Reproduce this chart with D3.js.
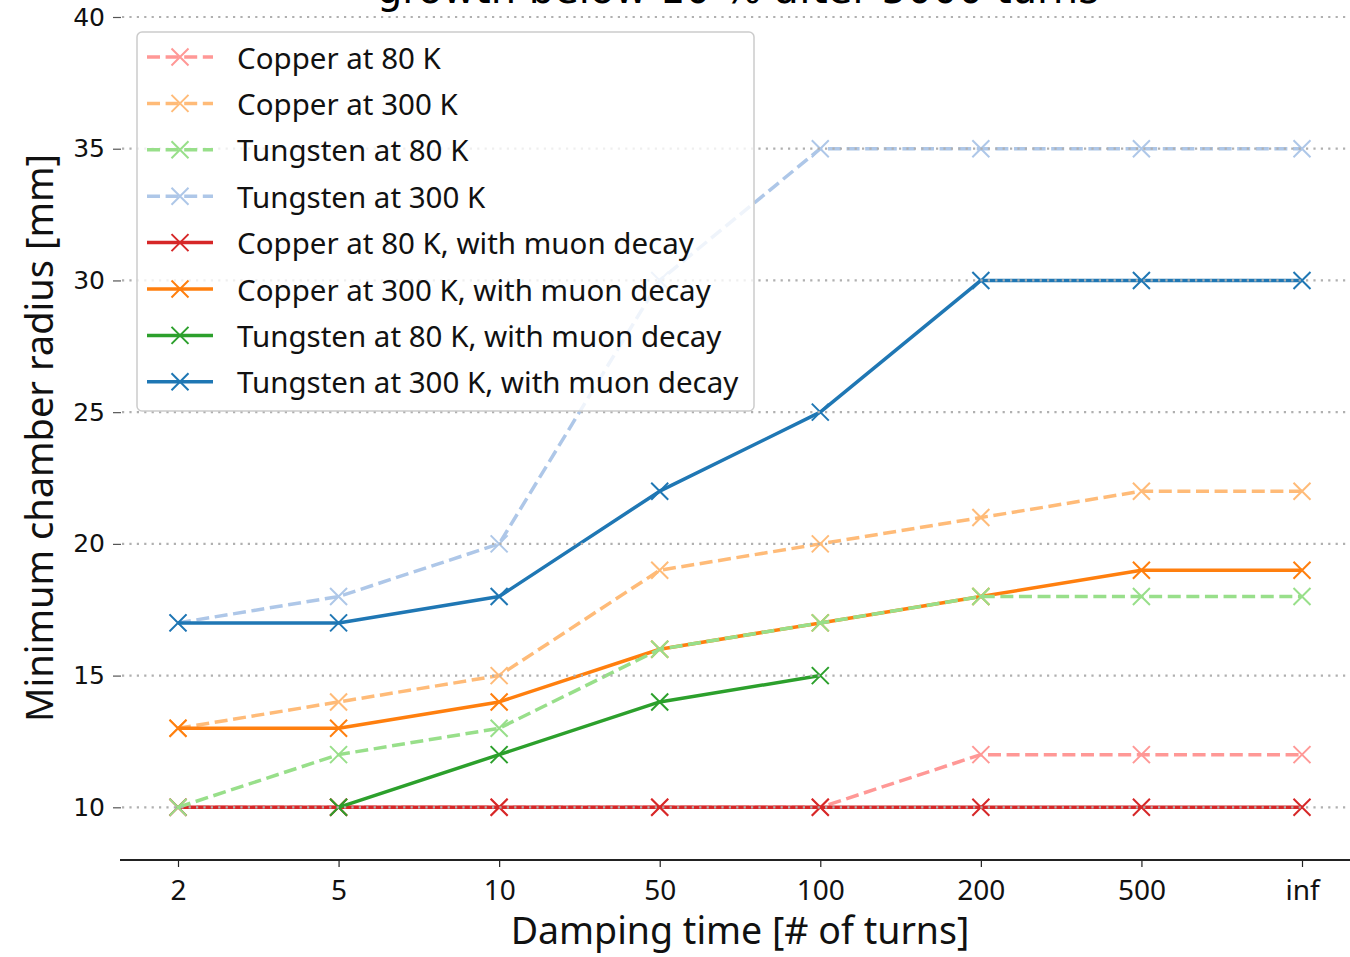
<!DOCTYPE html>
<html>
<head>
<meta charset="utf-8">
<script src="https://cdn.jsdelivr.net/npm/d3@7"></script>
<style>
  html, body { margin: 0; padding: 0; background: #fff; }
  svg { display: block; }
</style>
</head>
<body>
<svg id="chart" width="1350" height="957"></svg>
<script>
// ---------- DATA ----------
const categories = ["2", "5", "10", "50", "100", "200", "500", "inf"];
const yTicks = [10, 15, 20, 25, 30, 35, 40];

const copper80      = [10, 10, 10, 10, 10, 12, 12, 12];
const copper300     = [13, 14, 15, 19, 20, 21, 22, 22];
const tungsten80    = [10, 12, 13, 16, 17, 18, 18, 18];
const tungsten300   = [17, 18, 20, 30, 35, 35, 35, 35];
const copper80Muon    = [10, 10, 10, 10, 10, 10, 10, 10];
const copper300Muon   = [13, 13, 14, 16, 17, 18, 19, 19];
const tungsten80Muon  = [null, 10, 12, 14, 15, null, null, null];
const tungsten300Muon = [17, 17, 18, 22, 25, 30, 30, 30];

const titleText = "growth below 10 % after 5000 turns";
const xLabel = "Damping time [# of turns]";
const yLabel = "Minimum chamber radius [mm]";

// series (legend order)
const series = [
  { name: "Copper at 80 K", values: copper80, color: "#ff9896", dashed: true },
  { name: "Copper at 300 K", values: copper300, color: "#ffbb78", dashed: true },
  { name: "Tungsten at 80 K", values: tungsten80, color: "#98df8a", dashed: true },
  { name: "Tungsten at 300 K", values: tungsten300, color: "#aec7e8", dashed: true },
  { name: "Copper at 80 K, with muon decay", values: copper80Muon, color: "#d62728", dashed: false },
  { name: "Copper at 300 K, with muon decay", values: copper300Muon, color: "#ff7f0e", dashed: false },
  { name: "Tungsten at 80 K, with muon decay", values: tungsten80Muon, color: "#2ca02c", dashed: false },
  { name: "Tungsten at 300 K, with muon decay", values: tungsten300Muon, color: "#1f77b4", dashed: false }
];
// drawing order (pairs: dashed then solid for each material)
const drawOrder = [0, 4, 1, 5, 2, 6, 3, 7];

// ---------- LAYOUT ----------
const svg = d3.select("#chart");
const W = 1350, H = 957;
const axisY = 860, axisX0 = 120, axisX1 = 1350;

const x = d3.scalePoint().domain(categories).range([178, 1302]);
const y = d3.scaleLinear().domain([8, 40]).range([axisY, 17]);

const textFont = "'Noto Sans', 'Open Sans', sans-serif";

// title (mostly above the view, as in the reference)
svg.append("text")
  .attr("x", 738).attr("y", 3)
  .attr("text-anchor", "middle")
  .style("font-family", "'DejaVu Sans', sans-serif")
  .style("font-size", "40px")
  .attr("fill", "#000")
  .text(titleText);

// ---------- LINES ----------
const lineGen = d3.line()
  .defined(d => d.v !== null)
  .x(d => x(d.c))
  .y(d => y(d.v));

const gLines = svg.append("g");
drawOrder.forEach(i => {
  const s = series[i];
  const pts = categories.map((c, k) => ({ c, v: s.values[k] }));
  gLines.append("path")
    .datum(pts)
    .attr("d", lineGen)
    .attr("fill", "none")
    .attr("stroke", s.color)
    .attr("stroke-width", 3.5)
    .attr("stroke-dasharray", s.dashed ? "13,5.6" : null)
    .attr("stroke-linejoin", "round");
  const m = 8.5;
  gLines.selectAll(null)
    .data(pts.filter(d => d.v !== null))
    .enter().append("path")
    .attr("d", d => {
      const cx = x(d.c), cy = y(d.v);
      return `M${cx - m},${cy - m}L${cx + m},${cy + m}M${cx - m},${cy + m}L${cx + m},${cy - m}`;
    })
    .attr("stroke", s.color)
    .attr("stroke-width", 2)
    .attr("fill", "none");
});

// ---------- GRID (on top) ----------
const gGrid = svg.append("g");
gGrid.selectAll("line.grid")
  .data(yTicks)
  .enter().append("line")
  .attr("x1", 122).attr("x2", W)
  .attr("y1", d => y(d)).attr("y2", d => y(d))
  .attr("stroke", "#b0b0b0")
  .attr("stroke-width", 2.2)
  .attr("stroke-dasharray", "2.2,5.2");

// y ticks
const yAxis = d3.axisLeft(y).tickValues(yTicks).tickSize(8).tickPadding(8);
const gY = svg.append("g").attr("transform", "translate(121,0)").call(yAxis);
gY.select(".domain").remove();
gY.selectAll(".tick line").attr("stroke", "#555").attr("stroke-width", 1.2);
gY.selectAll(".tick text")
  .style("font-family", "'DejaVu Sans', sans-serif")
  .style("font-size", "25px")
  .attr("fill", "#111");

// x axis
const xAxis = d3.axisBottom(x).tickSize(7).tickPadding(13);
const gX = svg.append("g").attr("transform", `translate(0,${axisY})`).call(xAxis);
gX.select(".domain").remove();
gX.append("line")
  .attr("x1", axisX0).attr("x2", axisX1)
  .attr("y1", 0).attr("y2", 0)
  .attr("stroke", "#222").attr("stroke-width", 2);
gX.selectAll(".tick line").attr("stroke", "#222").attr("stroke-width", 1.2);
gX.selectAll(".tick text")
  .style("font-family", textFont)
  .style("font-size", "28px")
  .attr("fill", "#111");

// axis labels
svg.append("text")
  .attr("x", 740).attr("y", 944)
  .attr("text-anchor", "middle")
  .style("font-family", textFont)
  .style("font-size", "37.5px")
  .attr("fill", "#111")
  .text(xLabel);

svg.append("text")
  .attr("transform", "translate(53,438) rotate(-90)")
  .attr("text-anchor", "middle")
  .style("font-family", textFont)
  .style("font-size", "38px")
  .attr("fill", "#111")
  .text(yLabel);

// ---------- LEGEND ----------
const lg = svg.append("g");
lg.append("rect")
  .attr("x", 137).attr("y", 32)
  .attr("width", 617).attr("height", 379)
  .attr("rx", 5).attr("ry", 5)
  .attr("fill", "#fff").attr("fill-opacity", 0.8)
  .attr("stroke", "#cccccc").attr("stroke-width", 1.5);

const rowY0 = 57, rowDy = 46.4;
series.forEach((s, i) => {
  const cy = rowY0 + i * rowDy;
  lg.append("line")
    .attr("x1", 147).attr("x2", 213)
    .attr("y1", cy).attr("y2", cy)
    .attr("stroke", s.color)
    .attr("stroke-width", 3.5)
    .attr("stroke-dasharray", s.dashed ? "13,5.6" : null);
  const m = 8.5, cx = 180;
  lg.append("path")
    .attr("d", `M${cx - m},${cy - m}L${cx + m},${cy + m}M${cx - m},${cy + m}L${cx + m},${cy - m}`)
    .attr("stroke", s.color).attr("stroke-width", 2).attr("fill", "none");
  lg.append("text")
    .attr("x", 237).attr("y", cy)
    .attr("dominant-baseline", "central")
    .style("font-family", textFont)
    .style("font-size", "29.5px")
    .attr("fill", "#111")
    .text(s.name);
});
</script>
</body>
</html>
